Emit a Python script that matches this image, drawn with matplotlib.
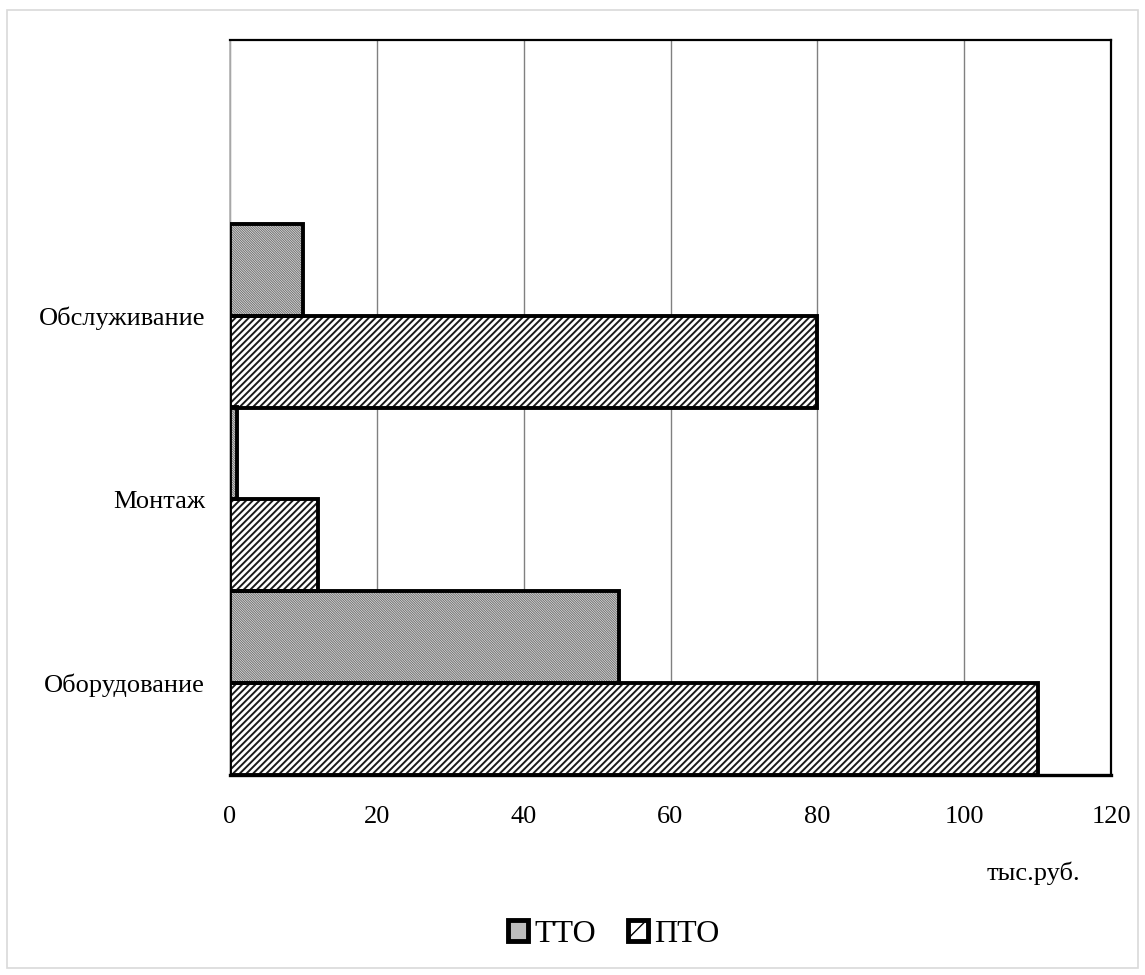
import numpy as np
import matplotlib.pyplot as plt
from matplotlib.patches import Rectangle

plt.rcParams['font.family'] = ['Liberation Serif', 'DejaVu Serif']

categories = ['Оборудование', 'Монтаж', 'Обслуживание']
tto = [53, 1, 10]
pto = [110, 12, 80]
series_names = ['ТТО', 'ПТО']


def hatch_lw(patches, lw):
    for p in patches:
        if hasattr(p, 'set_hatch_linewidth'):
            p.set_hatch_linewidth(lw)


fig = plt.figure(figsize=(11.45, 9.75), dpi=100)
fig.patches.append(Rectangle((7/1145, 1-968/975), 1131/1145, 958/975,
                             transform=fig.transFigure, fill=False,
                             edgecolor='#d9d9d9', linewidth=1.2))
ax = fig.add_axes([230/1145, 1-775/975, 881/1145, 735/975])

y = np.arange(len(categories))
h = 0.5
# hatch fill first, black outline on top
with plt.rc_context({'hatch.linewidth': 0.7}):
    b1 = ax.barh(y + h/2, tto, height=h, color='#e4e4e4', edgecolor='#707070',
                 linewidth=0, hatch='\\' * 14, zorder=3)
    hatch_lw(b1, 0.7)
ax.barh(y + h/2, tto, height=h, fill=False, edgecolor='black',
        linewidth=2.8, zorder=4)
with plt.rc_context({'hatch.linewidth': 1.4}):
    b2 = ax.barh(y - h/2, pto, height=h, color='white', edgecolor='#1a1a1a',
                 linewidth=0, hatch='/' * 5, zorder=3)
    hatch_lw(b2, 1.4)
ax.barh(y - h/2, pto, height=h, fill=False, edgecolor='black',
        linewidth=2.8, zorder=4)

# legend handles
h_tto = Rectangle((0, 0), 1, 1, facecolor='#bdbdbd', edgecolor='black', linewidth=3.5)
h_pto = Rectangle((0, 0), 1, 1, facecolor='white', edgecolor='black', linewidth=3.5, hatch='/')

ax.set_xlim(0, 120)
ax.set_ylim(-0.5, 3.5)
ax.set_xticks(np.arange(0, 121, 20))
ax.set_yticks(y)
ax.set_yticklabels(categories)
ax.tick_params(axis='both', length=0, labelsize=19)
ax.tick_params(axis='x', pad=22)
ax.tick_params(axis='y', pad=18)
ax.grid(axis='x', color='#808080', linewidth=1.0, zorder=0)
for s in ['top', 'right', 'bottom']:
    ax.spines[s].set_linewidth(1.6)
    ax.spines[s].set_color('black')
ax.spines['bottom'].set_linewidth(2.4)
ax.spines['left'].set_color('#b0b0b0')
ax.spines['left'].set_linewidth(1.2)

fig.text(1033/1145, 1-873/975, 'тыс.руб.', ha='center', va='center', fontsize=19)

leg = fig.legend([h_tto, h_pto], series_names, loc='center',
                 bbox_to_anchor=(614/1145, 1-934/975), ncol=2,
                 frameon=False, fontsize=23, handlelength=0.62, handleheight=0.62,
                 handletextpad=0.2, columnspacing=1.0)

fig.savefig('out.png', dpi=100)
